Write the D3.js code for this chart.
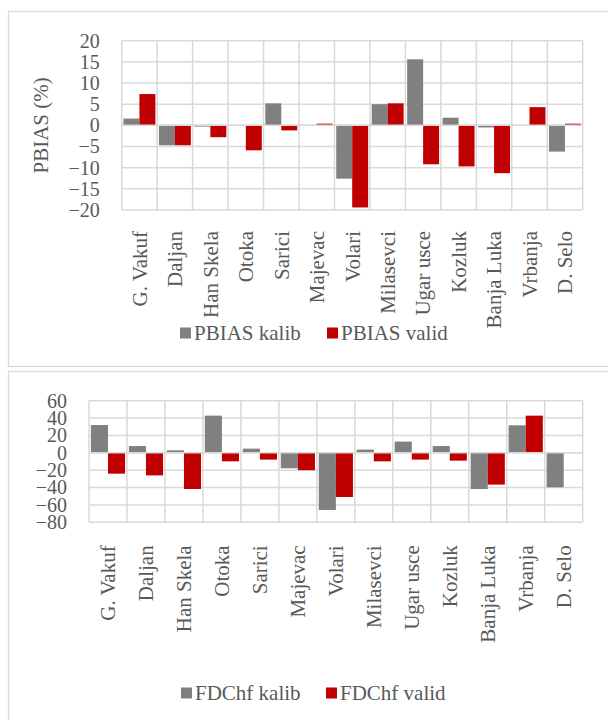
<!DOCTYPE html>
<html>
<head>
<meta charset="utf-8">
<script src="https://cdn.jsdelivr.net/npm/d3@7"></script>
<style>
  body { margin: 0; background: #fff; }
  svg text { font-family: "Liberation Serif", "Times New Roman", serif !important; fill: #595959; }
</style>
</head>
<body>
<div id="chart-div"></div>
<script>
// stations (category axis)
const categories = ['G. Vakuf', 'Daljan', 'Han Skela', 'Otoka', 'Sarici', 'Majevac', 'Volari',
  'Milasevci', 'Ugar usce', 'Kozluk', 'Banja Luka', 'Vrbanja', 'D. Selo'];

// PBIAS (%) values
const pbiasKalib = [1.6, -4.7, -0.3, 0, 5.2, 0, -12.6, 5.0, 15.6, 1.8, -0.5, 0, -6.2];
const pbiasValid = [7.4, -4.7, -2.8, -5.9, -1.2, 0.4, -19.4, 5.2, -9.2, -9.7, -11.3, 4.3, 0.4];
const pbiasTicks = [-20, -15, -10, -5, 0, 5, 10, 15, 20];

// FDChf values
const fdcKalib = [32, 7.8, 2.9, 42.8, 4.8, -17.8, -65.8, 3.7, 12.9, 7.8, -41.7, 31.7, -39.7];
const fdcValid = [-24, -26, -41.7, -9.8, -7.8, -20, -50.9, -9.8, -7.8, -9, -36.6, 42.8, 0];
const fdcTicks = [-80, -60, -40, -20, 0, 20, 40, 60];

const WIDTH = 608;
const HEIGHT = 720;
const FONT = 21;
const TICK_FONT = 20;
const SERIF = '"Liberation Serif", "Times New Roman", serif';
const GRID = '#d9d9d9';
const KALIB_COLOR = '#808080';
const VALID_COLOR = '#c00000';

const svg = d3.select('#chart-div')
  .append('svg')
  .attr('width', WIDTH)
  .attr('height', HEIGHT);

function drawPanel(cfg) {
  const g = svg.append('g');

  // outer chart frame
  g.append('rect')
    .attr('x', cfg.frame[0]).attr('y', cfg.frame[1])
    .attr('width', cfg.frame[2]).attr('height', cfg.frame[3])
    .attr('fill', 'none')
    .attr('stroke', GRID)
    .attr('stroke-width', 1.3);

  const x0 = d3.scaleBand()
    .domain(categories)
    .range([cfg.left, cfg.right])
    .padding(0);

  const x1 = d3.scaleBand()
    .domain(['kalib', 'valid'])
    .range([x0.bandwidth() * 0.05, x0.bandwidth() * 0.95])
    .padding(0);

  const y = d3.scaleLinear()
    .domain(d3.extent(cfg.ticks))
    .range([cfg.bottom, cfg.top]);

  // horizontal gridlines
  g.append('g')
    .selectAll('line')
    .data(cfg.ticks)
    .join('line')
    .attr('x1', cfg.left).attr('x2', cfg.right)
    .attr('y1', d => y(d)).attr('y2', d => y(d))
    .attr('stroke', GRID)
    .attr('stroke-width', 1.5);

  // vertical gridlines at category boundaries
  g.append('g')
    .selectAll('line')
    .data(categories.concat(['end']))
    .join('line')
    .attr('x1', (d, i) => cfg.left + i * x0.bandwidth())
    .attr('x2', (d, i) => cfg.left + i * x0.bandwidth())
    .attr('y1', cfg.top).attr('y2', cfg.bottom)
    .attr('stroke', GRID)
    .attr('stroke-width', 1.5);

  // bars
  const rows = categories.map((c, i) => ({ cat: c, kalib: cfg.kalib[i], valid: cfg.valid[i] }));
  const groups = g.append('g')
    .selectAll('g')
    .data(rows)
    .join('g')
    .attr('transform', d => `translate(${x0(d.cat)},0)`);

  groups.selectAll('rect')
    .data(d => [{ key: 'kalib', v: d.kalib }, { key: 'valid', v: d.valid }])
    .join('rect')
    .attr('x', d => x1(d.key))
    .attr('width', x1.bandwidth())
    .attr('y', d => y(Math.max(0, d.v)))
    .attr('height', d => Math.abs(y(d.v) - y(0)))
    .attr('fill', d => d.key === 'kalib' ? KALIB_COLOR : VALID_COLOR);

  // zero line drawn over the bars
  g.append('line')
    .attr('x1', cfg.left).attr('x2', cfg.right)
    .attr('y1', y(0)).attr('y2', y(0))
    .attr('stroke', GRID)
    .attr('stroke-width', 1.5);

  // value axis labels
  const yAxis = g.append('g')
    .attr('transform', `translate(${cfg.left - 22},0)`)
    .call(d3.axisLeft(y).tickValues(cfg.ticks).tickSize(0).tickPadding(0).tickFormat(d3.format('d')))
    .attr('font-family', SERIF)
    .attr('font-size', TICK_FONT);
  yAxis.select('.domain').remove();
  yAxis.selectAll('text')
    .style('font-family', SERIF)
    .style('font-size', TICK_FONT + 'px')
    .attr('fill', '#595959');

  // category labels, rotated
  g.append('g')
    .selectAll('text')
    .data(categories)
    .join('text')
    .attr('transform', d => `translate(${x0(d) + x0.bandwidth() / 2},${cfg.bottom + cfg.labelGap}) rotate(-90)`)
    .attr('text-anchor', 'end')
    .attr('dy', '0.35em')
    .style('font-family', SERIF)
    .style('font-size', FONT + 'px')
    .text(d => d);

  if (cfg.yTitle) {
    g.append('text')
      .attr('transform', `translate(${cfg.yTitleX},${(cfg.top + cfg.bottom) / 2}) rotate(-90)`)
      .attr('text-anchor', 'middle')
      .attr('dy', '0.35em')
      .style('font-family', SERIF)
      .style('font-size', FONT + 'px')
      .text(cfg.yTitle);
  }

  // legend
  const legend = g.append('g')
    .selectAll('g')
    .data(cfg.legend)
    .join('g')
    .attr('transform', d => `translate(${d.x},${cfg.legendY})`);
  legend.append('rect')
    .attr('x', 0).attr('y', -5.5)
    .attr('width', 11).attr('height', 11)
    .attr('fill', d => d.color);
  legend.append('text')
    .attr('x', 14)
    .attr('dy', '0.35em')
    .style('font-family', SERIF)
    .style('font-size', FONT + 'px')
    .text(d => d.label);
}

drawPanel({
  frame: [8.5, 11.5, 610, 355],
  left: 121.7, right: 582.7, top: 40.7, bottom: 210,
  ticks: pbiasTicks,
  kalib: pbiasKalib, valid: pbiasValid,
  labelGap: 21,
  yTitle: 'PBIAS (%)', yTitleX: 41,
  legendY: 333,
  legend: [
    { label: 'PBIAS kalib', color: KALIB_COLOR, x: 180 },
    { label: 'PBIAS valid', color: VALID_COLOR, x: 327 }
  ]
});

drawPanel({
  frame: [8.5, 371.5, 610, 360],
  left: 89, right: 582.7, top: 400.7, bottom: 522.3,
  ticks: fdcTicks,
  kalib: fdcKalib, valid: fdcValid,
  labelGap: 23,
  yTitle: null,
  legendY: 693,
  legend: [
    { label: 'FDChf kalib', color: KALIB_COLOR, x: 181 },
    { label: 'FDChf valid', color: VALID_COLOR, x: 326 }
  ]
});
</script>
</body>
</html>
